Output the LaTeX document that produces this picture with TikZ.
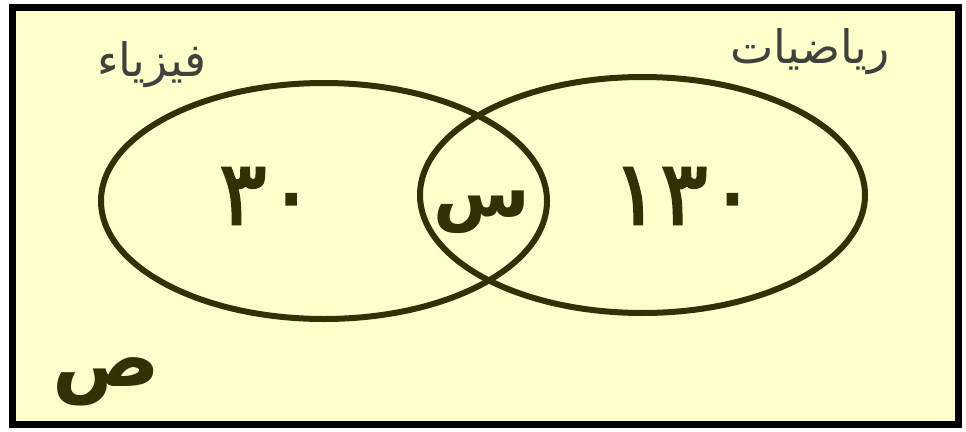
\documentclass[tikz,border=0pt]{standalone}
\usepackage{fontspec}
\usetikzlibrary{shapes.geometric}
\TeXXeTstate=1
\newfontfamily\arabicfont[Script=Arabic]{DejaVu Sans}
\newfontfamily\arabicmed[Script=Arabic,FakeBold=2]{DejaVu Sans}
\definecolor{bgyellow}{RGB}{255,255,204}
\definecolor{venncol}{RGB}{52,48,6}
\definecolor{titlecol}{RGB}{64,64,60}
\tikzset{
  universe/.style={draw=black, fill=bgyellow, line width=7pt, inner sep=0pt, rectangle},
  setring/.style={draw=venncol, line width=6pt, ellipse, inner sep=0pt},
  settitle/.style={text=titlecol, inner sep=0pt, font=\arabicfont\fontsize{46}{52}\selectfont},
  setvalue/.style={text=venncol, inner sep=0pt, font=\arabicmed\fontsize{90}{100}\selectfont},
  setletter/.style={text=venncol, inner sep=0pt, font=\arabicfont\bfseries\fontsize{70}{80}\selectfont}
}
\begin{document}
\begin{tikzpicture}[x=1pt,y=-1pt]
\useasboundingbox (0,0) rectangle (966,431);
\node[universe, minimum width=946pt, minimum height=417pt] (U) at (485,215.5) {};
\node[setring, minimum width=446pt, minimum height=236pt] (F) at (324,201) {};
\node[setring, minimum width=445pt, minimum height=236pt] (M) at (642.5,195) {};
\node[settitle] (tF) at (152,65) {\beginR فيزياء\endR};
\node[settitle] (tM) at (810,52) {\beginR رياضيات\endR};
\node[setvalue] (vF) at (267,196) {٣٠};
\node[setletter] (vX) at (482,212) {\beginR س\endR};
\node[setvalue] (vM) at (684,196) {١٣٠};
\node[setletter, font=\arabicfont\bfseries\fontsize{80}{90}\selectfont] (vU) at (106,382) {\beginR ص\endR};
\end{tikzpicture}
\end{document}
